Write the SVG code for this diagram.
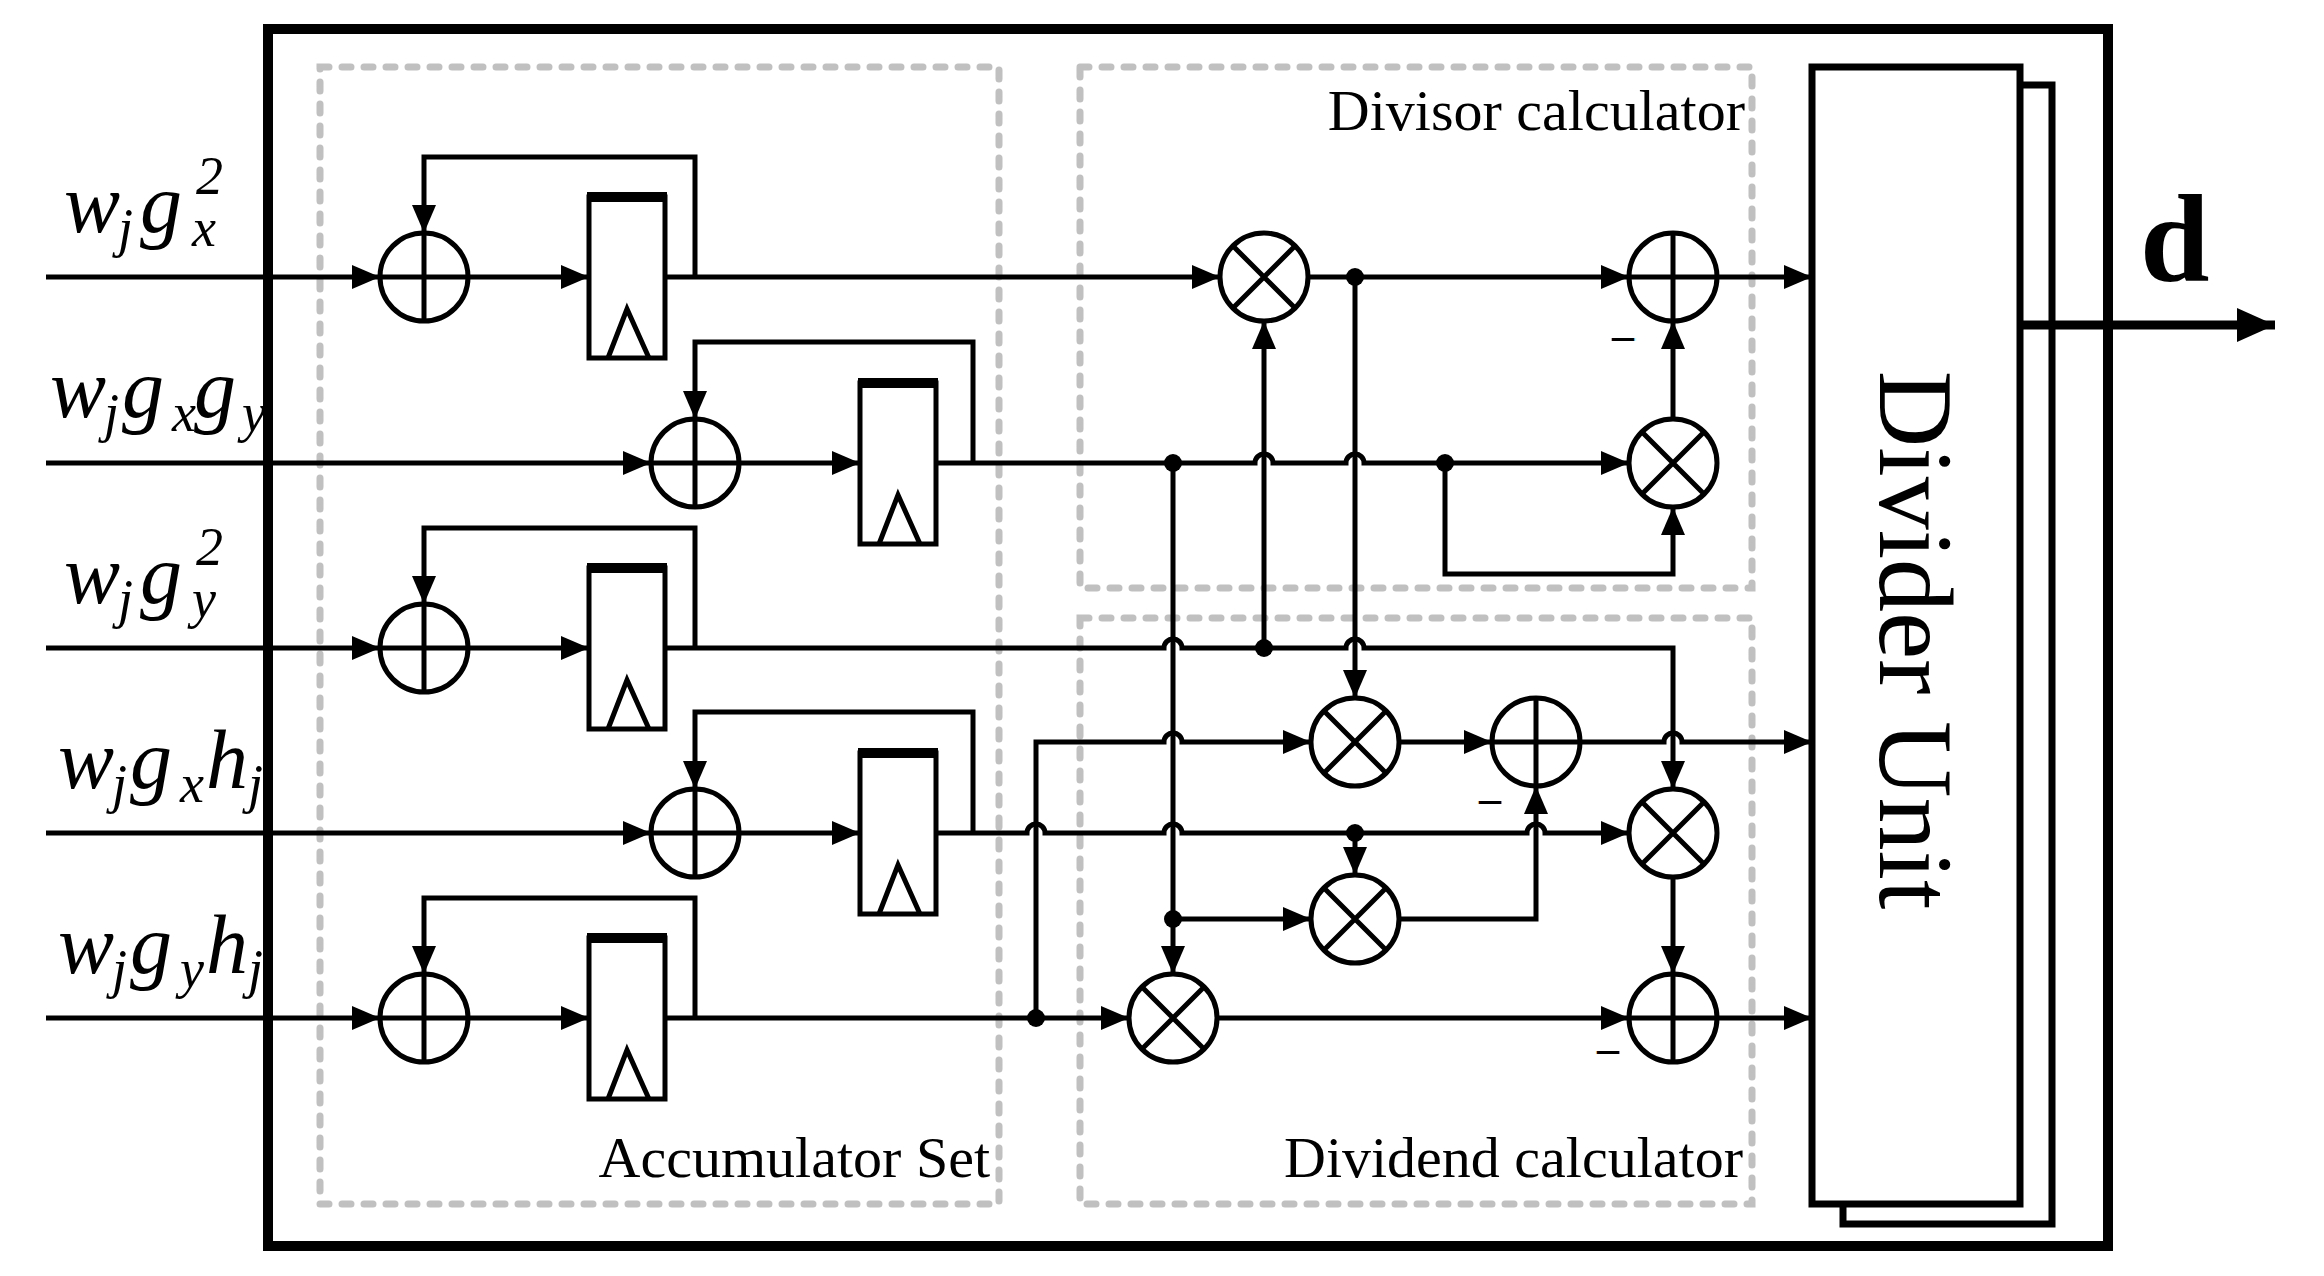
<svg xmlns="http://www.w3.org/2000/svg" width="2324" height="1276" viewBox="0 0 2324 1276">
<style>
.w{fill:none;stroke:#000;stroke-width:5}
.a{marker-end:url(#ah)}
.op{fill:#fff;stroke:#000;stroke-width:5}
.dash{fill:none;stroke:#c0c0c0;stroke-width:7;stroke-dasharray:9 13;stroke-linecap:round}
.dot{fill:#000}
.lab{font-family:"Liberation Serif",serif;font-style:italic;font-size:84px}
.sub{font-size:54px}
.cap{font-family:"Liberation Serif",serif;font-size:58px;text-anchor:end}
.mi{font-family:"Liberation Serif",serif;font-size:44px;font-weight:bold}
</style>
<defs>
<marker id="ah" markerUnits="userSpaceOnUse" markerWidth="30" markerHeight="24" refX="28" refY="12" orient="auto"><path d="M0,0 L28,12 L0,24 Z"/></marker>
<marker id="ahb" markerUnits="userSpaceOnUse" markerWidth="40" markerHeight="34" refX="38" refY="17" orient="auto"><path d="M0,0 L38,17 L0,34 Z"/></marker>
<g id="add"><circle r="44" class="op"/><path d="M-44 0H44M0 -44V44" class="w"/></g>
<g id="mul"><circle r="44" class="op"/><path d="M-31 -31L31 31M31 -31L-31 31" class="w"/></g>
<g id="reg"><rect x="0" y="-80" width="76" height="161" class="op"/><path d="M-2 -80H78" stroke="#000" stroke-width="10"/><path d="M19 81L38 32L60 81" class="w"/></g>
</defs>
<rect x="268" y="29" width="1840" height="1217" fill="none" stroke="#000" stroke-width="10"/>
<rect x="320" y="67" width="679" height="1137" class="dash"/>
<rect x="1080" y="67" width="672" height="521" class="dash"/>
<rect x="1080" y="618" width="672" height="586" class="dash"/>
<text class="cap" x="1745" y="130">Divisor calculator</text>
<text class="cap" x="990" y="1177">Accumulator Set</text>
<text class="cap" x="1743" y="1177">Dividend calculator</text>

<g id="labels">
<text class="lab" y="232"><tspan x="64">w</tspan><tspan class="sub" x="118" dy="14">j</tspan><tspan x="140" dy="-14">g</tspan><tspan class="sub" x="192" dy="14">x</tspan><tspan class="sub" x="196" dy="-52">2</tspan></text>
<text class="lab" y="417"><tspan x="50">w</tspan><tspan class="sub" x="104" dy="14">j</tspan><tspan x="122" dy="-14">g</tspan><tspan class="sub" x="172" dy="14">x</tspan><tspan x="194" dy="-14">g</tspan><tspan class="sub" x="242" dy="14">y</tspan></text>
<text class="lab" y="603"><tspan x="64">w</tspan><tspan class="sub" x="118" dy="14">j</tspan><tspan x="140" dy="-14">g</tspan><tspan class="sub" x="192" dy="14">y</tspan><tspan class="sub" x="196" dy="-52">2</tspan></text>
<text class="lab" y="788"><tspan x="58">w</tspan><tspan class="sub" x="112" dy="14">j</tspan><tspan x="130" dy="-14">g</tspan><tspan class="sub" x="180" dy="14">x</tspan><tspan x="206" dy="-14">h</tspan><tspan class="sub" x="248" dy="14">j</tspan></text>
<text class="lab" y="973"><tspan x="58">w</tspan><tspan class="sub" x="112" dy="14">j</tspan><tspan x="130" dy="-14">g</tspan><tspan class="sub" x="180" dy="14">y</tspan><tspan x="206" dy="-14">h</tspan><tspan class="sub" x="248" dy="14">j</tspan></text>
</g>

<g id="connectors">
<path class="w a" d="M46 277H380"/><path class="w a" d="M468 277H589"/><path class="w a" d="M695 277V157H424V233"/>
<path class="w a" d="M46 463H651"/><path class="w a" d="M739 463H860"/><path class="w a" d="M973 463V342H695V419"/>
<path class="w a" d="M46 648H380"/><path class="w a" d="M468 648H589"/><path class="w a" d="M695 648V528H424V604"/>
<path class="w a" d="M46 833H651"/><path class="w a" d="M739 833H860"/><path class="w a" d="M973 833V712H695V789"/>
<path class="w a" d="M46 1018H380"/><path class="w a" d="M468 1018H589"/><path class="w a" d="M695 1018V898H424V974"/>
<path class="w a" d="M665 277H1220"/>
<path class="w a" d="M1308 277H1629"/>
<path class="w a" d="M1717 277H1812"/>
<path class="w a" d="M935 463H1255A9 9 0 0 1 1273 463H1346A9 9 0 0 1 1364 463H1629"/>
<path class="w a" d="M1445 463V574H1673V507"/>
<path class="w a" d="M1673 419V321"/>
<path class="w a" d="M1264 648V321"/>
<path class="w a" d="M1355 277V698"/>
<path class="w a" d="M665 648H1164A9 9 0 0 1 1182 648H1346A9 9 0 0 1 1364 648H1673V789"/>
<path class="w a" d="M1173 463V974"/>
<path class="w a" d="M1036 1018V742H1164A9 9 0 0 1 1182 742H1311"/>
<path class="w a" d="M1399 742H1492"/>
<path class="w a" d="M1580 742H1664A9 9 0 0 1 1682 742H1812"/>
<path class="w a" d="M935 833H1027A9 9 0 0 1 1045 833H1164A9 9 0 0 1 1182 833H1527A9 9 0 0 1 1545 833H1629"/>
<path class="w a" d="M1355 833V875"/>
<path class="w a" d="M1173 919H1311"/>
<path class="w a" d="M1399 919H1536V786"/>
<path class="w a" d="M665 1018H1129"/>
<path class="w a" d="M1217 1018H1629"/>
<path class="w a" d="M1717 1018H1812"/>
<path class="w a" d="M1673 877V974"/>
<path d="M2020 325H2275" fill="none" stroke="#000" stroke-width="9" marker-end="url(#ahb)"/>
<circle class="dot" cx="1355" cy="277" r="9"/><circle class="dot" cx="1173" cy="463" r="9"/><circle class="dot" cx="1445" cy="463" r="9"/>
<circle class="dot" cx="1264" cy="648" r="9"/><circle class="dot" cx="1355" cy="833" r="9"/><circle class="dot" cx="1173" cy="919" r="9"/><circle class="dot" cx="1036" cy="1018" r="9"/>
</g>

<g id="acc1"><use href="#add" x="424" y="277"/><use href="#reg" x="589" y="277"/></g>
<g id="acc2"><use href="#add" x="695" y="463"/><use href="#reg" x="860" y="463"/></g>
<g id="acc3"><use href="#add" x="424" y="648"/><use href="#reg" x="589" y="648"/></g>
<g id="acc4"><use href="#add" x="695" y="833"/><use href="#reg" x="860" y="833"/></g>
<g id="acc5"><use href="#add" x="424" y="1018"/><use href="#reg" x="589" y="1018"/></g>
<g id="m1"><use href="#mul" x="1264" y="277"/></g>
<g id="a1"><use href="#add" x="1673" y="277"/></g>
<g id="m2"><use href="#mul" x="1673" y="463"/></g>
<g id="m3"><use href="#mul" x="1355" y="742"/></g>
<g id="a2"><use href="#add" x="1536" y="742"/></g>
<g id="m4"><use href="#mul" x="1673" y="833"/></g>
<g id="m5"><use href="#mul" x="1355" y="919"/></g>
<g id="m6"><use href="#mul" x="1173" y="1018"/></g>
<g id="a3"><use href="#add" x="1673" y="1018"/></g>
<text class="mi" x="1612" y="350">–</text>
<text class="mi" x="1479" y="813">–</text>
<text class="mi" x="1597" y="1063">–</text>

<g id="divider">
<path d="M2020 85H2052V1224H1843V1204" fill="none" stroke="#000" stroke-width="7"/>
<rect x="1812" y="67" width="208" height="1137" fill="#fff" stroke="#000" stroke-width="7"/>
<text font-family="Liberation Serif,serif" font-size="106" text-anchor="middle" transform="translate(1880 640) rotate(90)">Divider Unit</text>
</g>
<text x="2140" y="281" font-family="Liberation Serif,serif" font-size="125" font-weight="bold">d</text>
</svg>
